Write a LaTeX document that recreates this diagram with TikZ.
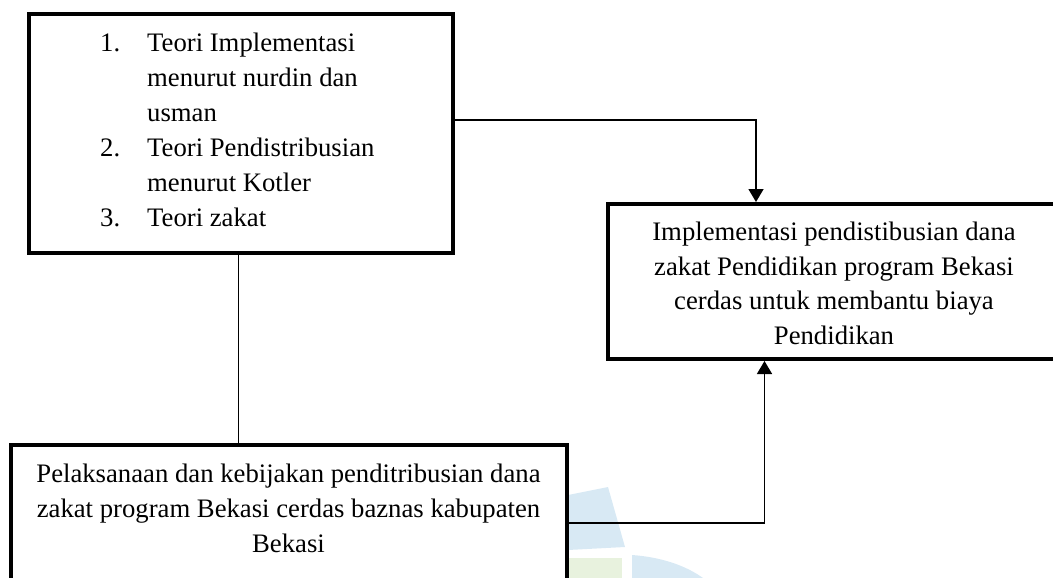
\documentclass[tikz,border=0pt]{standalone}
\usepackage{fontspec}
\setmainfont{Liberation Serif}
\usetikzlibrary{arrows.meta}
\definecolor{wmblue}{HTML}{D8E9F4}
\definecolor{wmgreen}{HTML}{E8F2DE}
\begin{document}
\begin{tikzpicture}[x=1pt,y=-1pt,
  box/.style={draw=black, line width=4pt, fill=white, inner sep=0pt, rectangle},
  conn/.style={draw=black, line width=1.5pt},
  arr/.style={conn, -{Triangle[width=15pt,length=13pt]}},
  txt/.style={font=\fontsize{26.7}{35}\selectfont, inner sep=0pt}]
\useasboundingbox (0,0) rectangle (1053,578);
% watermark fragments
\fill[wmblue] (568,495) -- (608,487) -- (625,547) -- (568,550) -- cycle;
\fill[wmgreen] (568,558) -- (622,558) -- (622,578) -- (568,578) -- cycle;
\fill[wmblue] (632,555) .. controls (660,557) and (685,565) .. (703,578) -- (632,578) -- cycle;
% connector anchors
\coordinate (v1) at (238.5,0);
\coordinate (t1) at (756,120);
\coordinate (t2) at (764.5,523);
% boxes
\node[box, minimum width=423.5pt, minimum height=238.5pt] (b1) at (240.75,133.25) {};
\node[box, minimum width=452pt, minimum height=155pt] (b2) at (834,281.5) {};
\node[box, minimum width=556.5pt, minimum height=155pt] (b3) at (288.75,522.5) {};
% connectors
\draw[conn] (b1.south -| v1) -- (b3.north -| v1);
\draw[arr] (b1.east |- t1) -- (t1) -- (t1 |- b2.north);
\draw[arr] (b3.east |- t2) -- (t2) -- (t2 |- b2.south);
% box 1 text
\node[txt, anchor=base west] (n1) at (100,51.7) {1.};
\node[txt, anchor=base west] (l1) at (147,51.7) {Teori Implementasi};
\node[txt, anchor=base west] (l2) at (147,86.7) {menurut nurdin dan};
\node[txt, anchor=base west] (l3) at (147,121.7) {usman};
\node[txt, anchor=base west] (n2) at (100,156.7) {2.};
\node[txt, anchor=base west] (l4) at (147,156.7) {Teori Pendistribusian};
\node[txt, anchor=base west] (l5) at (147,191.7) {menurut Kotler};
\node[txt, anchor=base west] (n3) at (100,226.7) {3.};
\node[txt, anchor=base west] (l6) at (147,226.7) {Teori zakat};
% box 2 text
\node[txt, anchor=base] (r1) at (834,240.7) {Implementasi pendistibusian dana};
\node[txt, anchor=base] (r2) at (834,275.2) {zakat Pendidikan program Bekasi};
\node[txt, anchor=base] (r3) at (834,309.7) {cerdas untuk membantu biaya};
\node[txt, anchor=base] (r4) at (834,344.3) {Pendidikan};
% box 3 text
\node[txt, anchor=base] (s1) at (288.5,482) {Pelaksanaan dan kebijakan penditribusian dana};
\node[txt, anchor=base] (s2) at (288.5,517) {zakat program Bekasi cerdas baznas kabupaten};
\node[txt, anchor=base] (s3) at (288.5,552) {Bekasi};
\end{tikzpicture}
\end{document}
